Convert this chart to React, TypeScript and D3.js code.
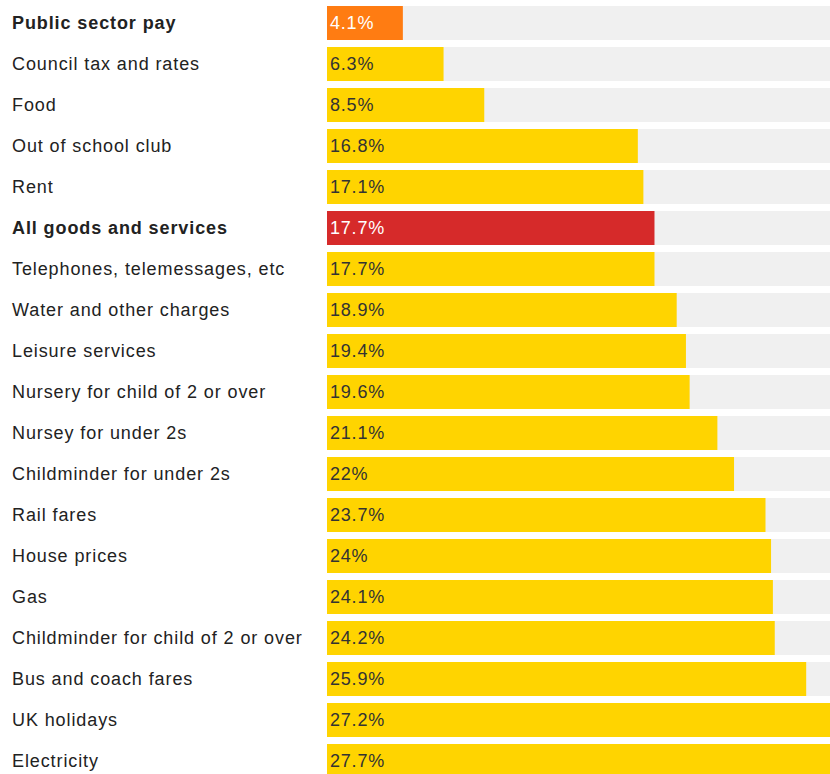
import React from "react";
import * as d3 from "d3";

const categories = [
  "Public sector pay",
  "Council tax and rates",
  "Food",
  "Out of school club",
  "Rent",
  "All goods and services",
  "Telephones, telemessages, etc",
  "Water and other charges",
  "Leisure services",
  "Nursery for child of 2 or over",
  "Nursey for under 2s",
  "Childminder for under 2s",
  "Rail fares",
  "House prices",
  "Gas",
  "Childminder for child of 2 or over",
  "Bus and coach fares",
  "UK holidays",
  "Electricity",
];
const values = [4.1, 6.3, 8.5, 16.8, 17.1, 17.7, 17.7, 18.9, 19.4, 19.6, 21.1, 22, 23.7, 24, 24.1, 24.2, 25.9, 27.2, 27.7];
const valueLabels = ["4.1%", "6.3%", "8.5%", "16.8%", "17.1%", "17.7%", "17.7%", "18.9%", "19.4%", "19.6%", "21.1%", "22%", "23.7%", "24%", "24.1%", "24.2%", "25.9%", "27.2%", "27.7%"];
const highlight: Record<string, string> = {
  "Public sector pay": "orange",
  "All goods and services": "red",
};

const W = 830;
const H = 774;
const barX = 327;
const FONT = "'Liberation Sans', Arial, Helvetica, sans-serif";

export default function App() {
  const x = d3.scaleLinear().domain([0, 27.7]).range([0, 512.5]);
  const y = d3.scaleBand<string>().domain(categories).range([6 - 3.5, 6 - 3.5 + 41 * categories.length]).paddingInner(7 / 41).paddingOuter(3.5 / 41);
  const bw = y.bandwidth();
  const colorOf = (c: string) =>
    highlight[c] === "orange" ? "#ff7c12" : highlight[c] === "red" ? "#d62a2a" : "#ffd400";
  return (
    <div style={{ position: "absolute", left: 0, top: 0 }}>
      <svg width={W} height={H} style={{ display: "block" }}>
        <rect x={0} y={0} width={W} height={H} fill="#ffffff" />
        {categories.map((c, i) => {
          const yy = y(c)!;
          const hl = !!highlight[c];
          return (
            <g key={c}>
              <rect x={barX} y={yy} width={W - barX} height={bw} fill="#f0f0f0" />
              <rect x={barX} y={yy} width={x(values[i])} height={bw} fill={colorOf(c)} />
              <text
                x={12}
                y={yy + bw / 2}
                dy="0.35em"
                fontFamily={FONT}
                fontSize={18}
                letterSpacing={0.9}
                fontWeight={hl ? "bold" : "normal"}
                fill="#222"
              >
                {c}
              </text>
              <text
                x={barX + 3}
                y={yy + bw / 2}
                dy="0.35em"
                fontFamily={FONT}
                fontSize={18}
                letterSpacing={0.8}
                fill={hl ? "#ffffff" : "#333"}
              >
                {valueLabels[i]}
              </text>
            </g>
          );
        })}
      </svg>
    </div>
  );
}
